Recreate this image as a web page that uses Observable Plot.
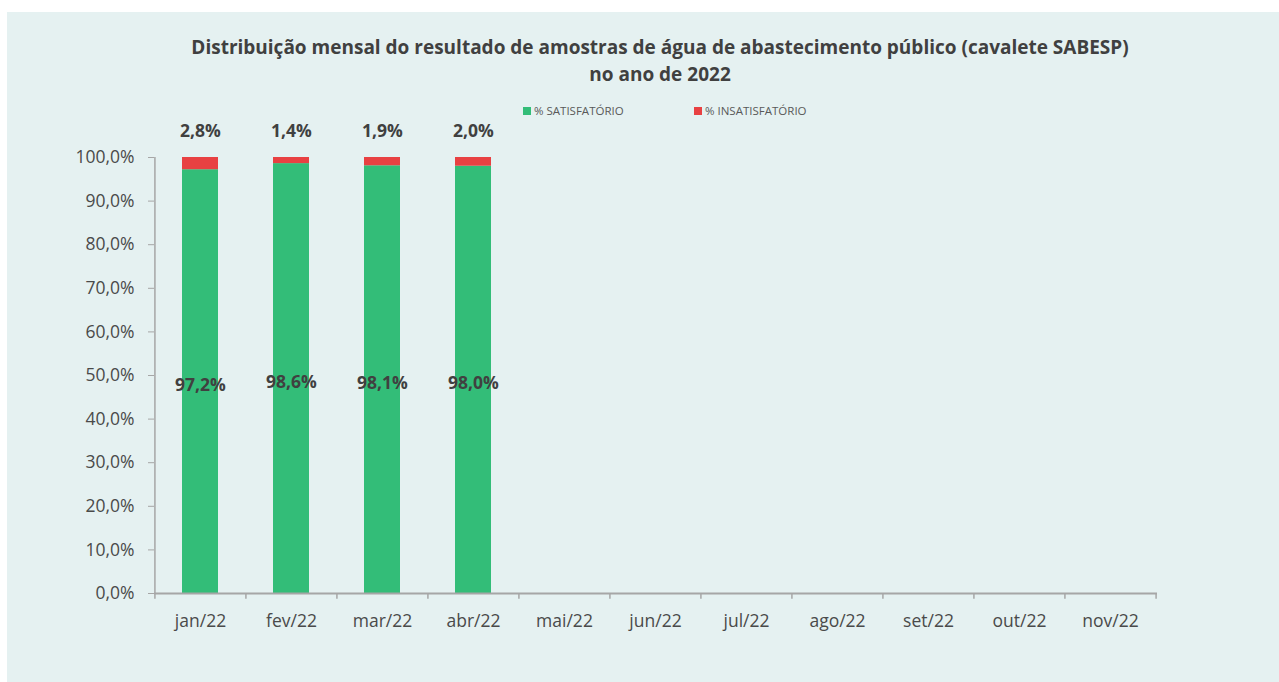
<!DOCTYPE html>
<html>
<head>
<meta charset="utf-8">
<script src="https://cdn.jsdelivr.net/npm/d3@7"></script>
<script src="https://cdn.jsdelivr.net/npm/@observablehq/plot@0.6"></script>
<style>
  html, body { margin: 0; padding: 0; background: #ffffff; width: 1279px; height: 682px; overflow: hidden; font-family: "Open Sans", sans-serif; }
  #panel { position: absolute; left: 7px; top: 12px; width: 1272px; height: 670px; background: #e5f1f1; }
  #title { position: absolute; left: 0; top: 34px; width: 1320px; text-align: center; font-weight: bold; font-size: 19px; line-height: 27px; color: #404040; }
  #legend { position: absolute; top: 103px; left: 0; width: 1279px; font-size: 11.5px; color: #595959; }
  .item { position: absolute; display: flex; align-items: center; white-space: nowrap; }
  .sw { width: 8px; height: 8px; margin-right: 3px; }
  #chart { position: absolute; left: 0; top: 100px; }
</style>
</head>
<body>
<div id="panel"></div>
<div id="title">Distribuição mensal do resultado de amostras de água de abastecimento público (cavalete SABESP)<br>no ano de 2022</div>
<div id="legend"></div>
<div id="chart"></div>
<script>
const months = ["jan/22","fev/22","mar/22","abr/22","mai/22","jun/22","jul/22","ago/22","set/22","out/22","nov/22"];
const dataMonths = ["jan/22","fev/22","mar/22","abr/22"];
const satisfatorio = [97.2, 98.6, 98.1, 98.0];
const insatisfatorio = [2.8, 1.4, 1.9, 2.0];
const seriesNames = ["% SATISFATÓRIO", "% INSATISFATÓRIO"];
const colors = ["#33bd78", "#e84142"];
const yTicks = [0,10,20,30,40,50,60,70,80,90,100];

const fmt1 = v => v.toFixed(1).replace(".", ",") + "%";

const rows = [];
dataMonths.forEach((m, i) => {
  rows.push({month: m, series: seriesNames[0], value: satisfatorio[i], y1: 0, y2: satisfatorio[i]});
  rows.push({month: m, series: seriesNames[1], value: insatisfatorio[i], y1: satisfatorio[i], y2: satisfatorio[i] + insatisfatorio[i]});
});
const satRows = rows.filter(r => r.series === seriesNames[0]);
const insRows = rows.filter(r => r.series === seriesNames[1]);

const W = 1279, H = 582;
const mL = 154, mR = 122, mT = 57, mB = 89;
const step = (W - mL - mR) / months.length;
const axisColor = "#a6a6a6";

const chart = Plot.plot({
  width: W, height: H,
  marginLeft: mL, marginRight: mR, marginTop: mT, marginBottom: mB,
  style: {background: "transparent", fontFamily: "Open Sans, sans-serif", overflow: "visible"},
  x: {type: "band", domain: months, paddingInner: 0.6, paddingOuter: 0.3, label: null},
  y: {domain: [0, 100], label: null},
  color: {domain: seriesNames, range: colors},
  marks: [
    Plot.barY(rows, {x: "month", y1: "y1", y2: "y2", fill: "series"}),
    Plot.ruleY([0], {stroke: axisColor, strokeWidth: 2}),
    Plot.ruleX([months[0]], {dx: -step / 2, y1: 0, y2: 100, stroke: axisColor, strokeWidth: 1.5}),
    Plot.ruleX(months, {dx: -step / 2, y1: 0, y2: -1.3, stroke: axisColor, strokeWidth: 1.5}),
    Plot.ruleX([months[months.length - 1]], {dx: step / 2, y1: 0, y2: -1.3, stroke: axisColor, strokeWidth: 1.5}),
    Plot.axisY({ticks: yTicks, tickFormat: fmt1, tickSize: 6, tickPadding: 14, stroke: axisColor, fontSize: 17.5, color: "#4a4a4a", label: null}),
    Plot.axisX({tickSize: 0, tickPadding: 21, fontSize: 17.5, color: "#4a4a4a", label: null}),
    Plot.text(satRows, {x: "month", y: d => d.value / 2, text: d => fmt1(d.value), dy: 4, fontSize: 17.5, fontWeight: "bold", fill: "#404040"}),
    Plot.text(insRows, {x: "month", y: "y2", text: d => fmt1(d.value), dy: -26, fontSize: 17.5, fontWeight: "bold", fill: "#404040"})
  ]
});
document.getElementById("chart").appendChild(chart);

const legend = document.getElementById("legend");
const legendX = [523, 694];
seriesNames.forEach((name, i) => {
  const item = document.createElement("div");
  item.className = "item";
  item.style.left = legendX[i] + "px";
  item.innerHTML = `<span class="sw" style="background:${colors[i]}"></span><span>${name}</span>`;
  legend.appendChild(item);
});
</script>
</body>
</html>
